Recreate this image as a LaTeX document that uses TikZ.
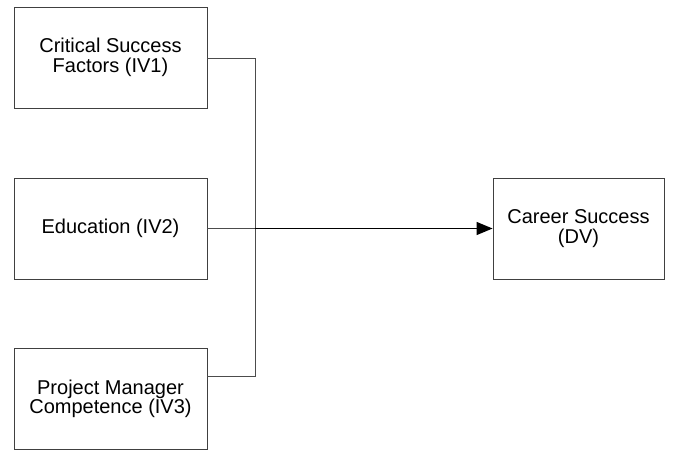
\documentclass[tikz,border=0pt]{standalone}
\usepackage{fontspec}
\setmainfont{Liberation Sans}
\usetikzlibrary{arrows.meta}
\begin{document}
\begin{tikzpicture}[x=1pt,y=-1pt,
  box/.style={draw=black!75, line width=0.9pt, minimum width=193pt, minimum height=101pt, inner sep=0pt,
    align=center, font=\fontsize{20}{19.5}\selectfont},
  thin/.style={draw=black!70, line width=0.9pt},
  main/.style={draw=black, line width=1.3pt, -{Triangle[length=16pt,width=13pt]}}]
\useasboundingbox (0,0) rectangle (675,453);
\node[box] (iv1) at (110.5,57.5) {Critical Success\\Factors (IV1)};
\node[box] (iv2) at (110.5,228.5) {Education (IV2)};
\node[box] (iv3) at (110.5,399) {Project Manager\\Competence (IV3)};
\node[box, minimum width=171pt] (dv) at (578.5,228.5) {Career Success\\(DV)};
\coordinate (top) at (255,58);
\coordinate (bot) at (255,376);
\coordinate (mid) at (255,228.5);
\draw[thin] (iv1.east |- top) -- (top) -- (bot) -- (iv3.east |- bot);
\draw[thin] (iv2.east) -- (mid);
\draw[main] (mid) -- (dv.west);
\end{tikzpicture}
\end{document}
